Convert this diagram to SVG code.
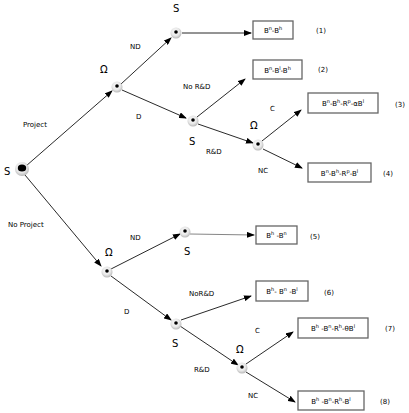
<svg xmlns="http://www.w3.org/2000/svg" width="409" height="413" viewBox="0 0 409 413">
<defs>
<radialGradient id="halo" cx="0.45" cy="0.4" r="0.6">
<stop offset="0" stop-color="#ffffff"/>
<stop offset="0.6" stop-color="#e8e8e8"/>
<stop offset="1" stop-color="#b8b8b8"/>
</radialGradient>
<marker id="arr" markerWidth="8" markerHeight="6" refX="7" refY="3" orient="auto" markerUnits="userSpaceOnUse">
<path d="M0,0 L8,3 L0,6 z" fill="#000"/>
</marker>
<style>
text{font-family:"DejaVu Sans","Liberation Sans",sans-serif;font-size:7px;fill:#000}
.lbl{font-size:7px}
.big{font-size:10px}
.box{fill:#fff;stroke:#666;stroke-width:1.3}
.sup{font-size:5px}
.ln{stroke:#111;stroke-width:0.9;fill:none}
.halo{fill:url(#halo)}
</style>
</defs>
<rect width="409" height="413" fill="#fff"/>
<g id="connectors">
<line class="ln" x1="26" y1="166" x2="112" y2="91" marker-end="url(#arr)"/>
<line class="ln" x1="121" y1="84" x2="171" y2="38" marker-end="url(#arr)"/>
<line class="ln" x1="122" y1="90" x2="186" y2="118" marker-end="url(#arr)"/>
<line class="ln" x1="182" y1="33" x2="251" y2="33" marker-end="url(#arr)"/>
<line class="ln" x1="197" y1="117" x2="245" y2="79" marker-end="url(#arr)"/>
<line class="ln" x1="198" y1="124" x2="253" y2="143" marker-end="url(#arr)"/>
<line class="ln" x1="262" y1="141" x2="301" y2="110" marker-end="url(#arr)"/>
<line class="ln" x1="263" y1="149" x2="302" y2="168" marker-end="url(#arr)"/>
<line class="ln" x1="25" y1="175" x2="101" y2="266" marker-end="url(#arr)"/>
<line class="ln" x1="111" y1="269" x2="180" y2="234" marker-end="url(#arr)"/>
<line class="ln" x1="111" y1="276" x2="171" y2="320" marker-end="url(#arr)"/>
<line class="ln" x1="190" y1="234" x2="254" y2="235" stroke="#666" style="stroke:#777" marker-end="url(#arr)"/>
<line class="ln" x1="181" y1="320" x2="251" y2="296" marker-end="url(#arr)"/>
<line class="ln" x1="180" y1="326" x2="238" y2="365" marker-end="url(#arr)"/>
<line class="ln" x1="246" y1="364" x2="293" y2="332" marker-end="url(#arr)"/>
<line class="ln" x1="246" y1="372" x2="295" y2="402" marker-end="url(#arr)"/>
</g>
<g id="root">
<circle class="halo" cx="22" cy="169" r="7"/>
<ellipse cx="22" cy="168" rx="4.2" ry="3.5" fill="#000"/>
<text class="big" x="4" y="175">S</text>
</g>
<g id="omega1">
<circle class="halo" cx="117" cy="87" r="5.5"/>
<circle cx="117" cy="86" r="1.8" fill="#000"/>
<text class="big" x="100" y="73">Ω</text>
</g>
<g id="s1">
<circle class="halo" cx="176" cy="33" r="5.5"/>
<circle cx="176" cy="32" r="1.8" fill="#000"/>
<text class="big" x="173" y="12">S</text>
</g>
<g id="s2">
<circle class="halo" cx="193" cy="121" r="5.5"/>
<circle cx="193" cy="120" r="1.8" fill="#000"/>
<text class="big" x="189" y="145">S</text>
</g>
<g id="omega2">
<circle class="halo" cx="258" cy="145" r="5.5"/>
<circle cx="258" cy="144" r="1.8" fill="#000"/>
<text class="big" x="250" y="129">Ω</text>
</g>
<g id="omega3">
<circle class="halo" cx="107" cy="272" r="5.5"/>
<circle cx="107" cy="271" r="1.8" fill="#000"/>
<text class="big" x="105" y="256">Ω</text>
</g>
<g id="s3">
<circle class="halo" cx="185" cy="232" r="5.5"/>
<circle cx="185" cy="231" r="1.8" fill="#000"/>
<text class="big" x="184" y="255">S</text>
</g>
<g id="s4">
<circle class="halo" cx="176" cy="324" r="5.5"/>
<circle cx="176" cy="323" r="1.8" fill="#000"/>
<text class="big" x="172" y="347">S</text>
</g>
<g id="omega4">
<circle class="halo" cx="242" cy="368" r="5.5"/>
<circle cx="242" cy="367" r="1.8" fill="#000"/>
<text class="big" x="236" y="353">Ω</text>
</g>
<g id="labels">
<text x="23" y="127">Project</text>
<text x="8" y="227">No Project</text>
<text x="130" y="49">ND</text>
<text x="136" y="119">D</text>
<text x="183" y="89">No R&amp;D</text>
<text x="206" y="154">R&amp;D</text>
<text x="270" y="111">C</text>
<text x="258" y="173">NC</text>
<text x="130" y="240">ND</text>
<text x="124" y="314">D</text>
<text x="189" y="296">NoR&amp;D</text>
<text x="194" y="372">R&amp;D</text>
<text x="255" y="333">C</text>
<text x="248" y="398">NC</text>
</g>
<g id="box1">
<rect class="box" x="253" y="21" width="40" height="18"/>
<text x="273" y="33" text-anchor="middle">B<tspan class="sup" dy="-3">n</tspan><tspan dy="3">-B</tspan><tspan class="sup" dy="-3">h</tspan></text>
<text x="316" y="33">(1)</text>
</g>
<g id="box2">
<rect class="box" x="253" y="60" width="49" height="19"/>
<text x="277.5" y="72.5" text-anchor="middle">B<tspan class="sup" dy="-3">n</tspan><tspan dy="3">-B</tspan><tspan class="sup" dy="-3">l</tspan><tspan dy="3">-B</tspan><tspan class="sup" dy="-3">h</tspan></text>
<text x="318" y="72">(2)</text>
</g>
<g id="box3">
<rect class="box" x="308" y="93" width="70" height="20"/>
<text x="343" y="106" text-anchor="middle">B<tspan class="sup" dy="-3">n</tspan><tspan dy="3">-B</tspan><tspan class="sup" dy="-3">h</tspan><tspan dy="3">-R</tspan><tspan class="sup" dy="-3">p</tspan><tspan dy="3">-αB</tspan><tspan class="sup" dy="-3">l</tspan></text>
<text x="395" y="107">(3)</text>
</g>
<g id="box4">
<rect class="box" x="308" y="163" width="63" height="19"/>
<text x="339.5" y="175.5" text-anchor="middle">B<tspan class="sup" dy="-3">n</tspan><tspan dy="3">-B</tspan><tspan class="sup" dy="-3">h</tspan><tspan dy="3">-R</tspan><tspan class="sup" dy="-3">p</tspan><tspan dy="3">-B</tspan><tspan class="sup" dy="-3">l</tspan></text>
<text x="383" y="176">(4)</text>
</g>
<g id="box5">
<rect class="box" x="256" y="226" width="41" height="18"/>
<text x="276.5" y="238" text-anchor="middle">B<tspan class="sup" dy="-3">h</tspan><tspan dy="3"> -B</tspan><tspan class="sup" dy="-3">n</tspan></text>
<text x="310" y="239">(5)</text>
</g>
<g id="box6">
<rect class="box" x="256" y="281" width="52" height="20"/>
<text x="282" y="294" text-anchor="middle">B<tspan class="sup" dy="-3">h</tspan><tspan dy="3">- B</tspan><tspan class="sup" dy="-3">n</tspan><tspan dy="3"> -B</tspan><tspan class="sup" dy="-3">l</tspan></text>
<text x="324" y="295">(6)</text>
</g>
<g id="box7">
<rect class="box" x="298" y="318" width="70" height="20"/>
<text x="333" y="331" text-anchor="middle">B<tspan class="sup" dy="-3">h</tspan><tspan dy="3"> -B</tspan><tspan class="sup" dy="-3">n</tspan><tspan dy="3">-R</tspan><tspan class="sup" dy="-3">h</tspan><tspan dy="3">-θB</tspan><tspan class="sup" dy="-3">l</tspan></text>
<text x="385" y="331">(7)</text>
</g>
<g id="box8">
<rect class="box" x="298" y="391" width="66" height="19"/>
<text x="331" y="403.5" text-anchor="middle">B<tspan class="sup" dy="-3">h</tspan><tspan dy="3"> -B</tspan><tspan class="sup" dy="-3">n</tspan><tspan dy="3">-R</tspan><tspan class="sup" dy="-3">h</tspan><tspan dy="3">-B</tspan><tspan class="sup" dy="-3">l</tspan></text>
<text x="380" y="404">(8)</text>
</g>
</svg>
